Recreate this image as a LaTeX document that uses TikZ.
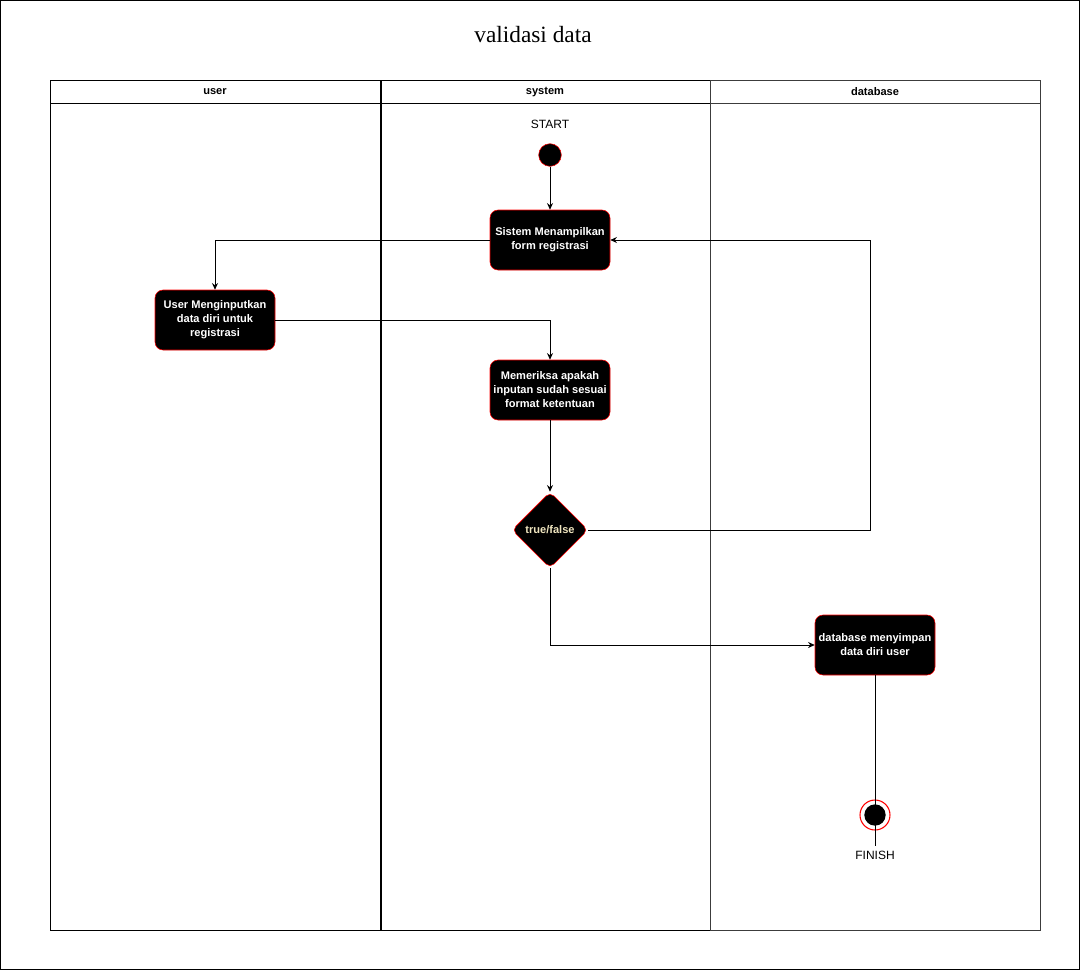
\documentclass[tikz,border=0pt]{standalone}
\usepackage{fontspec}
\setmainfont{Liberation Serif}
\setsansfont{Liberation Sans}
\usetikzlibrary{arrows.meta,shapes.geometric,positioning}
\definecolor{boxred}{RGB}{255,0,0}
\definecolor{cream}{RGB}{238,228,190}
\definecolor{lanegray}{RGB}{60,60,60}
\tikzset{
  act/.style={draw=boxred, fill=black, rounded corners=6pt, minimum width=90pt, minimum height=45pt,
    align=center, text=white, font=\sffamily\bfseries\fontsize{8.3}{10.5}\selectfont, inner sep=1pt},
  decide/.style={diamond, draw=boxred, fill=black, rounded corners=4pt, minimum width=57pt, minimum height=57pt,
    text=cream, font=\sffamily\bfseries\fontsize{8.3}{10}\selectfont, inner sep=0pt},
  lanehead/.style={font=\sffamily\bfseries\fontsize{8.3}{10}\selectfont},
  lbl/.style={font=\sffamily\fontsize{9}{10}\selectfont},
  arr/.style={-{Stealth[length=5pt,width=4.5pt]}, thick, line width=0.7pt}
}
\begin{document}
\begin{tikzpicture}[x=0.75pt,y=-0.75pt]
\useasboundingbox (0,0) rectangle (1082,972);
\draw[line width=0.8pt] (0.5,0.5) rectangle (1079.5,969.5);
\node[font=\fontsize{17.5}{20}\selectfont] (title) at (533,35) {validasi data};

% swimlanes
\draw[line width=0.75pt] (50,80) rectangle (380,930);
\draw[line width=0.75pt] (381,80) rectangle (710,930);
\draw[line width=0.75pt, lanegray] (710,80) rectangle (1040,930);
\draw[line width=0.75pt] (50,103) -- (710,103);
\draw[line width=0.75pt, lanegray] (710,103) -- (1040,103);
\node[lanehead] (h1) at (215,92) {user};
\node[lanehead] (h2) at (545,92) {system};
\node[lanehead] (h3) at (875,92) {database};

% nodes
\node[lbl] (startlbl) at (550,124) {START};
\node[circle, draw=boxred, fill=black, minimum size=17pt, inner sep=0pt] (start) at (550,155) {};
\node[act] (tampil) at (550,240) {Sistem Menampilkan\\form registrasi};
\node[act] (input) at (215,320) {User Menginputkan\\data diri untuk\\registrasi};
\node[act] (periksa) at (550,390) {Memeriksa apakah\\inputan sudah sesuai\\format ketentuan};
\node[decide] (cek) at (550,530) {true/false};
\node[act] (simpan) at (875,645) {database menyimpan\\data diri user};
\node[circle, draw=boxred, line width=0.8pt, minimum size=22.5pt, inner sep=0pt] (finish) at (875,815) {};
\node[circle, fill=black, minimum size=16pt, inner sep=0pt] (finishdot) at (875,815) {};
\node[lbl] (finishlbl) at (875,855) {FINISH};
\coordinate (balik) at (870,530);

% edges
\draw[arr] (start) -- (tampil);
\draw[arr] (tampil.west) -| (input.north);
\draw[arr] (input.east) -| (periksa.north);
\draw[arr] (periksa) -- (cek);
\draw[arr] (cek.east) -- (balik) |- (tampil.east);
\draw[arr] (cek.south) |- (simpan.west);
\draw[line width=0.7pt] (simpan.south) -- (finishlbl.north);
\end{tikzpicture}
\end{document}
